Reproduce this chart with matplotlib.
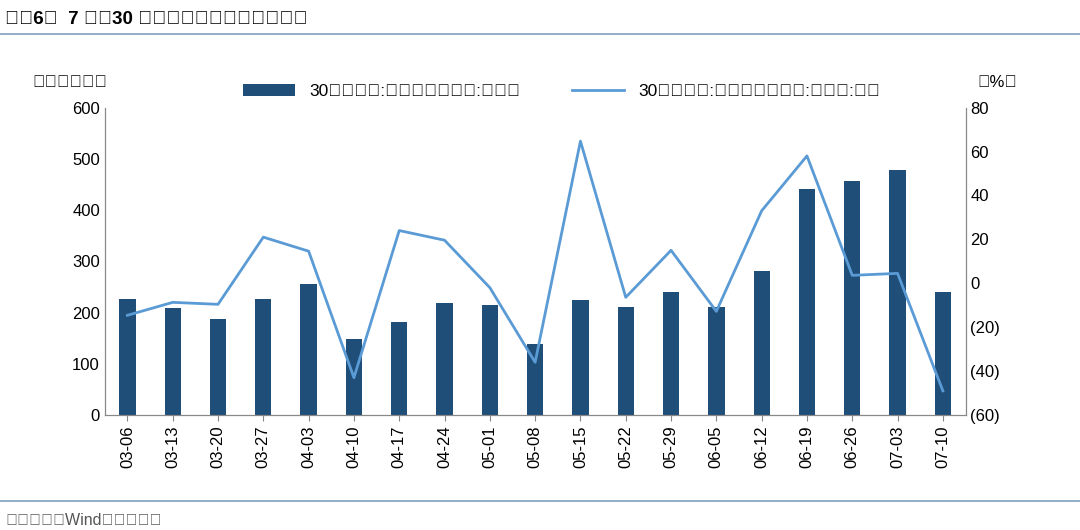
import matplotlib
matplotlib.use("Agg")
import matplotlib.pyplot as plt
import numpy as np

plt.rcParams['font.family'] = 'sans-serif'
plt.rcParams['font.sans-serif'] = ['Liberation Sans', 'Noto Sans CJK SC', 'Noto Sans CJK JP', 'Noto Sans CJK TC', 'DejaVu Sans']

categories = ["03-06","03-13","03-20","03-27","04-03","04-10","04-17","04-24","05-01","05-08",
              "05-15","05-22","05-29","06-05","06-12","06-19","06-26","07-03","07-10"]
area = [226,208,187,226,256,148,182,218,214,138,224,210,241,210,281,442,457,478,241]
wow = [-14.6,-8.7,-9.6,21,14.6,-43,24,19.6,-2,-36,64.7,-6.4,15,-12.8,33,58,3.6,4.5,-49]

fig = plt.figure(figsize=(10.8,5.3), dpi=100)
ax = fig.add_axes([0.097, 0.217, 0.797, 0.58])
x = np.arange(len(categories))
bar_c = "#1F4E79"; line_c = "#5B9BD5"
ax.bar(x, area, width=0.36, color=bar_c, label="30大中城市:商品房成交面积:当周值")
ax.set_ylim(0,600); ax.set_yticks(range(0,601,100))
ax.set_xlim(-0.5, len(x)-0.5)
ax.set_xticks(x); ax.set_xticklabels(categories, rotation=90, fontsize=12)
ax.tick_params(axis='y', labelsize=12, length=0)
ax2 = ax.twinx()
ax2.plot(x, wow, color=line_c, lw=2, label="30大中城市:商品房成交面积:当周值:环比")
ax2.set_ylim(-60,80); ax2.set_yticks(range(-60,81,20))
ax2.set_yticklabels([f"({-v})" if v<0 else str(v) for v in range(-60,81,20)], fontsize=12)
ax2.tick_params(axis='y', length=0)
for a in (ax, ax2):
    a.spines['top'].set_visible(False)
    for s in ['left','right','bottom']: a.spines[s].set_color('#888')
ax.tick_params(axis='x', length=4, color='#888')
fig.text(0.03, 0.835, "（万平方米）", fontsize=12)
fig.text(0.905, 0.835, "（%）", fontsize=12)
h1,l1 = ax.get_legend_handles_labels(); h2,l2 = ax2.get_legend_handles_labels()
fig.legend(h1+h2, l1+l2, loc='center', bbox_to_anchor=(0.52,0.828), ncol=2, frameon=False, fontsize=12.5, columnspacing=3, handlelength=3)
fig.text(0.005, 0.955, "图表6：  7 月，30 城商品房周度成交面积回落", fontsize=13.5, fontweight='bold')
fig.add_artist(plt.Line2D([0,1],[0.935,0.935], color='#7F9FBF', lw=1.2))
fig.add_artist(plt.Line2D([0,1],[0.055,0.055], color='#7F9FBF', lw=1.2))
fig.text(0.005, 0.01, "资料来源：Wind，华泰研究", fontsize=11.5, color='#555')
fig.savefig("out.png", dpi=100)
